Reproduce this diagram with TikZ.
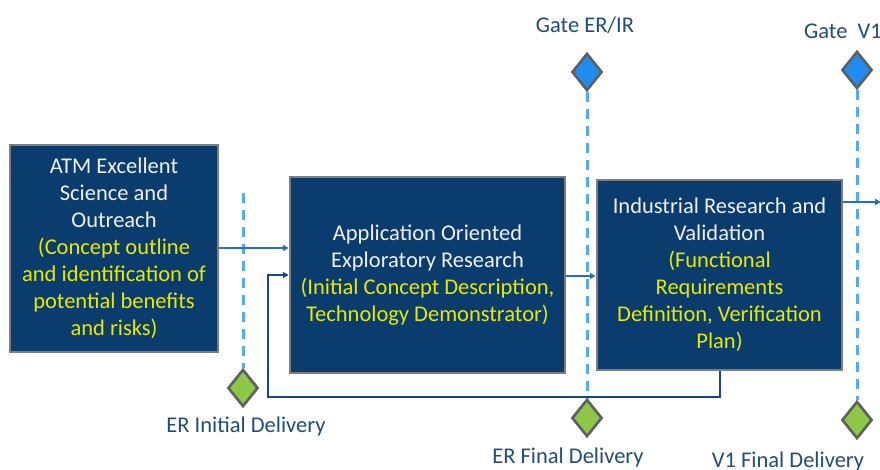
\documentclass[tikz,border=0pt]{standalone}
\usepackage{fontspec}
\setmainfont{Carlito}
\usetikzlibrary{shapes.geometric,arrows.meta}
\definecolor{boxfill}{RGB}{10,60,110}
\definecolor{boxedge}{RGB}{125,125,125}
\definecolor{txtw}{RGB}{240,240,240}
\definecolor{txty}{RGB}{232,232,0}
\definecolor{lbl}{RGB}{31,78,121}
\definecolor{msblue}{RGB}{85,170,245}
\definecolor{conn}{RGB}{40,110,185}
\definecolor{fback}{RGB}{30,70,130}
\definecolor{gblue}{RGB}{30,140,240}
\definecolor{ggreen}{RGB}{140,200,70}
\tikzset{
  stagebox/.style={draw=boxedge, line width=2.5pt, fill=boxfill, text=txtw, align=center,
    font=\fontsize{22.5}{27}\selectfont, inner sep=0pt},
  gatediam/.style={diamond, draw=gray!75!black, line width=2.5pt, fill=gblue, inner sep=0pt,
    minimum width=30pt, minimum height=37pt},
  delivdiam/.style={diamond, draw=gray!75!black, line width=2.5pt, fill=ggreen, inner sep=0pt,
    minimum width=30pt, minimum height=37pt},
  milestone/.style={draw=msblue, line width=3pt, dash pattern=on 10pt off 7pt},
  flow/.style={draw=conn, line width=1.4pt, -{Triangle[length=6pt,width=6pt]}},
  backflow/.style={draw=fback, line width=1.4pt, -{Triangle[length=6pt,width=6pt]}},
  lbltext/.style={text=lbl, font=\fontsize{22.5}{27}\selectfont, inner sep=0pt}
}
\newcommand{\yl}[1]{\textcolor{txty}{#1}}
\begin{document}
\begin{tikzpicture}[x=1pt,y=-1pt]
\useasboundingbox (0,0) rectangle (880,470);
\fill[white] (0,0) rectangle (880,470);

% milestone dashed lines (behind)
\node[gatediam] (gER) at (587,72) {};
\node[gatediam] (gV1) at (857,70) {};
\node[delivdiam] (dERi) at (243,388) {};
\node[delivdiam] (dERf) at (587,418) {};
\node[delivdiam] (dV1f) at (857,420) {};
\coordinate (eritop) at (243,193);
\draw[milestone] (eritop) -- (dERi.north);
\draw[milestone] (gER.south) -- (dERf.north);
\draw[milestone] (gV1.south) -- (dV1f.north);

% boxes
\node[stagebox, minimum width=208pt, minimum height=207pt] (box1) at (114,248.5)
 {ATM Excellent\\Science and\\Outreach\\\yl{(Concept outline}\\\yl{and identification of}\\\yl{potential benefits}\\\yl{and risks)}};
\node[stagebox, minimum width=275pt, minimum height=196pt] (box2) at (427.5,275)
 {Application Oriented\\Exploratory Research\\\yl{(Initial Concept Description,}\\\yl{Technology Demonstrator)}};
\node[stagebox, minimum width=245pt, minimum height=190pt] (box3) at (719.5,275)
 {Industrial Research and\\Validation\\\yl{(Functional}\\\yl{Requirements}\\\yl{Definition, Verification}\\\yl{Plan)}};

% redraw diamonds on top
\node[gatediam] at (gER) {};
\node[gatediam] at (gV1) {};
\node[delivdiam] at (dERi) {};
\node[delivdiam] at (dERf) {};
\node[delivdiam] at (dV1f) {};

% connectors
\coordinate (outR) at (881,202);
\draw[flow] (box1.east |- 0,248) -- (box2.west |- 0,248);
\draw[flow] (box2.east |- 0,276) -- (box3.west |- 0,276);
\draw[flow] (box3.east |- 0,202) -- (outR);
\coordinate (fbA) at (720,397);
\coordinate (fbB) at (268,397);
\coordinate (fbC) at (268,275);
\draw[backflow] (box3.south -| 720,0) -- (fbA) -- (fbB) -- (fbC) -- (box2.west |- fbC);

% labels
\node[lbltext] (lGER) at (585,25) {Gate ER/IR};
\node[lbltext, anchor=west] (lGV1) at (804,31) {Gate\ \ V1};
\node[lbltext] (lERi) at (246,426) {ER Initial Delivery};
\node[lbltext] (lERf) at (568,457) {ER Final Delivery};
\node[lbltext] (lV1f) at (788,461) {V1 Final Delivery};
\end{tikzpicture}
\end{document}
